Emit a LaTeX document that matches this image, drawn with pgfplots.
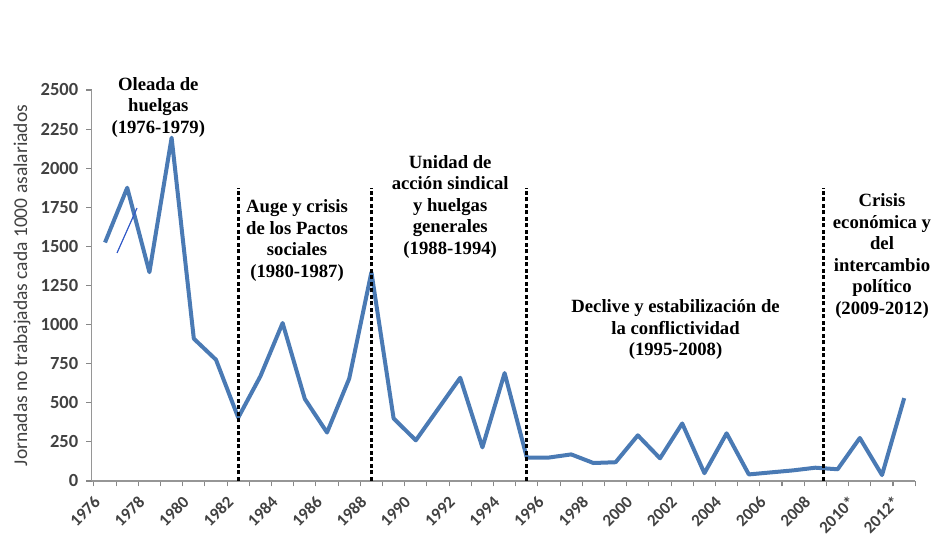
\documentclass[border=0pt]{standalone}
\usepackage{pgfplots}
\pgfplotsset{compat=1.18}
\usepackage{fontspec}
\setmainfont{Liberation Serif}
\newfontfamily\carlito{Carlito}
\definecolor{linea}{RGB}{74,122,180}
\definecolor{tickgray}{RGB}{65,65,65}
\definecolor{axgray}{RGB}{150,150,150}
\definecolor{tkgray}{RGB}{135,135,135}
\definecolor{trazo}{RGB}{50,90,200}
\begin{document}
\begin{tikzpicture}
\useasboundingbox (0pt,0pt) rectangle (935pt,537pt);
\begin{axis}[
  at={(91.7pt,56pt)}, anchor=south west,
  scale only axis, width=823.6pt, height=391pt,
  xmin=1975.4, xmax=2012.5, ymin=0, ymax=2500,
  axis x line=bottom, axis y line=left,
  axis line style={-, axgray, line width=1.2pt},
  tick style={draw=tkgray, line width=1.1pt},
  tick align=outside,
  major tick length=5.5pt,
  xtick={1975.5,1976.5,...,2012.5},
  xticklabels={1976,{},1978,{},1980,{},1982,{},1984,{},1986,{},1988,{},1990,{},1992,{},1994,{},1996,{},1998,{},2000,{},2002,{},2004,{},2006,{},2008,{},2010*,{},2012*,{}},
  ytick={0,250,...,2500},
  /pgf/number format/assume math mode=true,
  /pgf/number format/1000 sep={},
  yticklabel style={font=\carlito\bfseries\fontsize{18.5}{20}\selectfont, color=tickgray, xshift=-4.5pt},
  xticklabel style={font=\carlito\bfseries\fontsize{17}{19}\selectfont, color=tickgray, inner sep=1pt, anchor=north east, xshift=-1pt, yshift=-7pt, rotate=45},
  ylabel={Jornadas no trabajadas cada 1000 asalariados},
  ylabel style={font=\carlito\fontsize{19.5}{21}\selectfont, color=tickgray, at={(axis description cs:-0.0846,0.5)}, anchor=center},
  clip=false,
]
\addplot[linea, line width=4pt, line join=round] coordinates {
(1976,1525) (1977,1875) (1978,1335) (1979,2195) (1980,910) (1981,775)
(1982,405) (1983,670) (1984,1010) (1985,525) (1986,310) (1987,655)
(1988,1335) (1989,400) (1990,260) (1991,460) (1992,660) (1993,215)
(1994,690) (1995,150) (1996,150) (1997,170) (1998,115) (1999,120)
(2000,292) (2001,145) (2002,368) (2003,50) (2004,305) (2005,42)
(2006,55) (2007,68) (2008,85) (2009,75) (2010,275) (2011,38) (2012,530)
};
\addplot[trazo, line width=1.2pt] coordinates {(1976.54,1458) (1977.44,1745)};
\addplot[black, line width=3pt, dash pattern=on 4pt off 2.5pt] coordinates {(1982,0) (1982,1875)};
\addplot[black, line width=3pt, dash pattern=on 4pt off 2.5pt] coordinates {(1988,0) (1988,1875)};
\addplot[black, line width=3pt, dash pattern=on 4pt off 2.5pt] coordinates {(1995,0) (1995,1875)};
\addplot[black, line width=3pt, dash pattern=on 4pt off 2.5pt] coordinates {(2008.35,0) (2008.35,1875)};
\node[align=center, font=\bfseries\fontsize{18.7}{21.5}\selectfont] at (axis cs:1978.4,2390) {Oleada de\\huelgas\\(1976-1979)};
\node[align=center, font=\bfseries\fontsize{18.7}{21.5}\selectfont] at (axis cs:1984.65,1537) {Auge y crisis\\de los Pactos\\sociales\\(1980-1987)};
\node[align=center, font=\bfseries\fontsize{18.7}{21.5}\selectfont] at (axis cs:1991.55,1752) {Unidad de\\acción sindical\\y huelgas\\generales\\(1988-1994)};
\node[align=center, font=\bfseries\fontsize{18.7}{21.5}\selectfont] at (axis cs:2001.7,968) {Declive y estabilización de\\la conflictividad\\(1995-2008)};
\node[align=center, font=\bfseries\fontsize{18.7}{21.5}\selectfont] at (axis cs:2011.0,1438) {Crisis\\económica y\\del\\intercambio\\político\\(2009-2012)};
\end{axis}
\end{tikzpicture}
\end{document}
